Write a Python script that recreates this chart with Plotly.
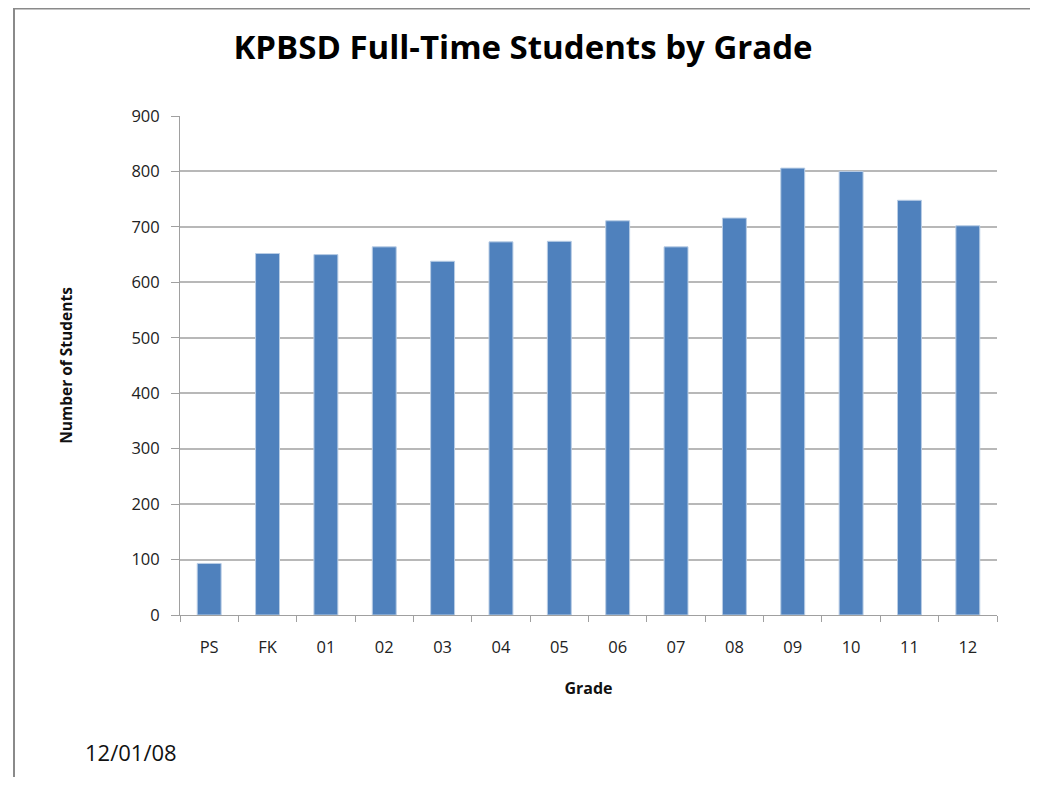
import plotly.graph_objects as go

grades = ["PS", "FK", "01", "02", "03", "04", "05", "06", "07", "08", "09", "10", "11", "12"]
students = [93, 652, 650, 664, 638, 673, 674, 711, 664, 716, 806, 800, 748, 702]
y_ticks = [0, 100, 200, 300, 400, 500, 600, 700, 800, 900]

FONT = "'Open Sans', sans-serif"

# page body has an 8px default margin; the figure is sized to fit inside the window
OFF = 8
W, H = 1038 - OFF, 785 - 2 * OFF
L, R, T, B = 180 - OFF, 1038 - 997, 116 - OFF, (785 - OFF) - 615
pw = W - L - R
ph = H - T - B


def px_x(x):
    return (x - OFF - L) / pw


def px_y(y):
    return (H - B - (y - OFF)) / ph


fig = go.Figure()
fig.add_trace(go.Bar(
    x=grades, y=students,
    marker=dict(color="#4F81BD", line=dict(color="#b9cde5", width=1)),
    width=0.41,
))

fig.update_layout(
    width=W, height=H,
    margin=dict(l=L, r=R, t=T, b=B, pad=0),
    paper_bgcolor="white", plot_bgcolor="white",
    showlegend=False,
    font=dict(family=FONT, color="#333333", size=16),
    title=dict(text="<b>KPBSD Full-Time Students by Grade</b>",
               x=(523 - OFF) / W, xanchor="center", xref="container",
               y=1 - (47 - OFF) / H, yanchor="middle", yref="container",
               font=dict(family=FONT, size=33, color="#000000")),
    xaxis=dict(
        type="category", tickson="boundaries",
        showline=True, linecolor="#a0a0a0", linewidth=1,
        ticks="outside", ticklen=6, tickcolor="#a0a0a0",
        showgrid=False, ticklabelstandoff=17,
        tickfont=dict(size=16.5, color="#222222"),
        title=dict(text="<b>Grade</b>", standoff=26,
                   font=dict(size=16, color="#111111")),
    ),
    yaxis=dict(
        range=[0, 900], tickvals=y_ticks,
        showline=True, linecolor="#a0a0a0", linewidth=1,
        ticks="outside", ticklen=8, tickcolor="#a0a0a0",
        showgrid=True, gridcolor="#b8b8b8", gridwidth=1.5,
        zeroline=False, ticklabelstandoff=8,
        tickfont=dict(size=16.5, color="#222222"),
        title=dict(text="<b>Number of Students</b>", standoff=54,
                   font=dict(size=15.5, color="#111111")),
    ),
    shapes=[dict(type="rect", xref="paper", yref="paper",
                 x0=px_x(14), x1=px_x(1035), y0=px_y(800), y1=px_y(8.5),
                 line=dict(color="#8a8a8a", width=2), layer="below")],
    annotations=[dict(text="12/01/08", xref="paper", yref="paper",
                      x=px_x(83), y=px_y(752), xanchor="left", yanchor="middle",
                      showarrow=False, font=dict(size=22, color="#111111"))],
)

fig.write_html("out.html")
